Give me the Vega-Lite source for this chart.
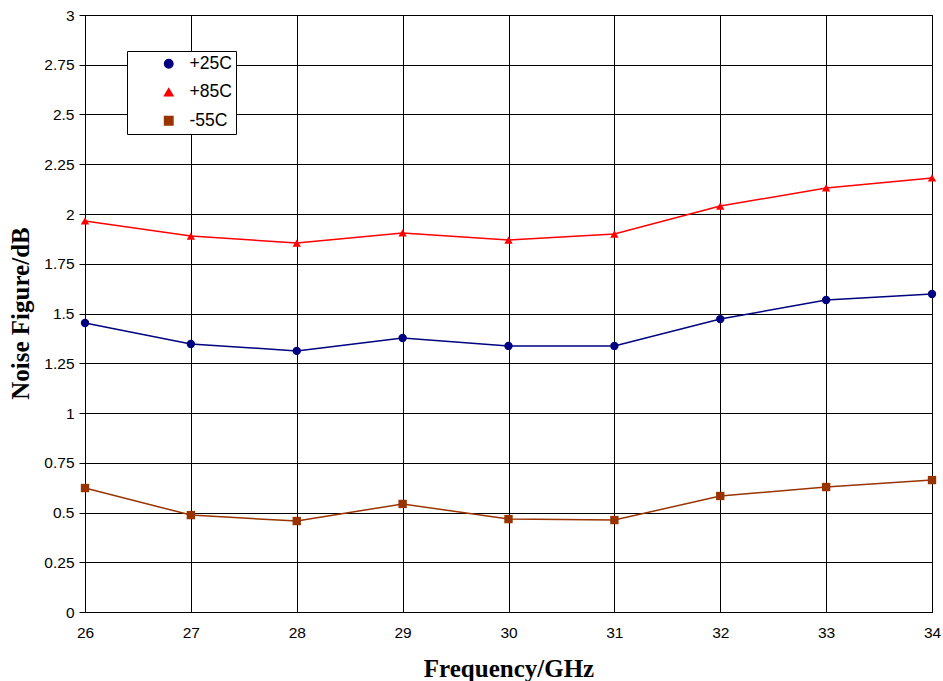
{
  "$schema": "https://vega.github.io/schema/vega-lite/v6.json",
  "autosize": "none",
  "width": 847,
  "height": 597,
  "padding": {"left": 85, "top": 15, "right": 11, "bottom": 69},
  "background": "white",
  "config": {
    "view": {"stroke": "black", "strokeWidth": 1},
    "font": "Liberation Sans"
  },
  "data": {
    "values": [
      {"f": 26, "s": "+25C", "nf": 1.452},
      {"f": 27, "s": "+25C", "nf": 1.347},
      {"f": 28, "s": "+25C", "nf": 1.312},
      {"f": 29, "s": "+25C", "nf": 1.377},
      {"f": 30, "s": "+25C", "nf": 1.337},
      {"f": 31, "s": "+25C", "nf": 1.337},
      {"f": 32, "s": "+25C", "nf": 1.472},
      {"f": 33, "s": "+25C", "nf": 1.568},
      {"f": 34, "s": "+25C", "nf": 1.598},
      {"f": 26, "s": "+85C", "nf": 1.965},
      {"f": 27, "s": "+85C", "nf": 1.889},
      {"f": 28, "s": "+85C", "nf": 1.854},
      {"f": 29, "s": "+85C", "nf": 1.905},
      {"f": 30, "s": "+85C", "nf": 1.869},
      {"f": 31, "s": "+85C", "nf": 1.899},
      {"f": 32, "s": "+85C", "nf": 2.040},
      {"f": 33, "s": "+85C", "nf": 2.131},
      {"f": 34, "s": "+85C", "nf": 2.181},
      {"f": 26, "s": "-55C", "nf": 0.623},
      {"f": 27, "s": "-55C", "nf": 0.487},
      {"f": 28, "s": "-55C", "nf": 0.457},
      {"f": 29, "s": "-55C", "nf": 0.543},
      {"f": 30, "s": "-55C", "nf": 0.467},
      {"f": 31, "s": "-55C", "nf": 0.462},
      {"f": 32, "s": "-55C", "nf": 0.583},
      {"f": 33, "s": "-55C", "nf": 0.628},
      {"f": 34, "s": "-55C", "nf": 0.663}
    ]
  },
  "encoding": {
    "x": {
      "field": "f", "type": "quantitative",
      "scale": {"domain": [26, 34], "nice": false, "zero": false},
      "axis": {
        "title": "Frequency/GHz",
        "values": [26, 27, 28, 29, 30, 31, 32, 33, 34],
        "format": "d",
        "grid": true, "gridColor": "black", "gridOpacity": 1, "gridWidth": 1,
        "domainColor": "black", "domainWidth": 1,
        "ticks": false,
        "labelFont": "Liberation Sans", "labelFontSize": 15.5, "labelColor": "black",
        "labelPadding": 13, "labelFlush": false,
        "titleFont": "Liberation Serif", "titleFontSize": 25, "titleFontWeight": "bold", "titleColor": "black",
        "titleY": 56, "titleBaseline": "middle"
      }
    },
    "y": {
      "field": "nf", "type": "quantitative",
      "scale": {"domain": [0, 3], "nice": false},
      "axis": {
        "title": "Noise Figure/dB",
        "values": [0, 0.25, 0.5, 0.75, 1, 1.25, 1.5, 1.75, 2, 2.25, 2.5, 2.75, 3],
        "labelExpr": "'' + datum.value",
        "grid": true, "gridColor": "black", "gridOpacity": 1, "gridWidth": 1,
        "domainColor": "black", "domainWidth": 1,
        "ticks": true, "tickColor": "black", "tickSize": 6,
        "labelFont": "Liberation Sans", "labelFontSize": 15.5, "labelColor": "black",
        "labelPadding": 5,
        "titleFont": "Liberation Serif", "titleFontSize": 25, "titleFontWeight": "bold", "titleColor": "black",
        "titleX": -65, "titleY": 298, "titleAngle": -90, "titleAlign": "center", "titleBaseline": "middle"
      }
    }
  },
  "layer": [
    {
      "mark": {"type": "line", "strokeWidth": 1.5},
      "encoding": {
        "color": {
          "field": "s", "type": "nominal",
          "scale": {"domain": ["+25C", "+85C", "-55C"], "range": ["#000080", "#ff0000", "#993300"]},
          "legend": {
            "title": null,
            "orient": "none", "legendX": 42, "legendY": 36,
            "fillColor": "white", "strokeColor": "black",
            "padding": 4,
            "labelFont": "Liberation Sans", "labelFontSize": 17.5, "labelColor": "black",
            "labelExpr": "datum.label + '\u00a0\u00a0\u00a0\u00a0\u00a0\u00a0\u00a0\u00a0'",
            "rowPadding": 9.5, "symbolSize": 70, "symbolOffset": 29, "labelOffset": 12,
            "symbolOpacity": 1, "symbolStrokeWidth": 1.5
          }
        }
      }
    },
    {
      "mark": {"type": "point", "filled": true, "size": 70, "opacity": 1},
      "encoding": {
        "color": {"field": "s", "type": "nominal", "legend": null},
        "shape": {
          "field": "s", "type": "nominal",
          "scale": {"domain": ["+25C", "+85C", "-55C"], "range": ["circle", "triangle-up", "square"]},
          "legend": null
        }
      }
    }
  ]
}
